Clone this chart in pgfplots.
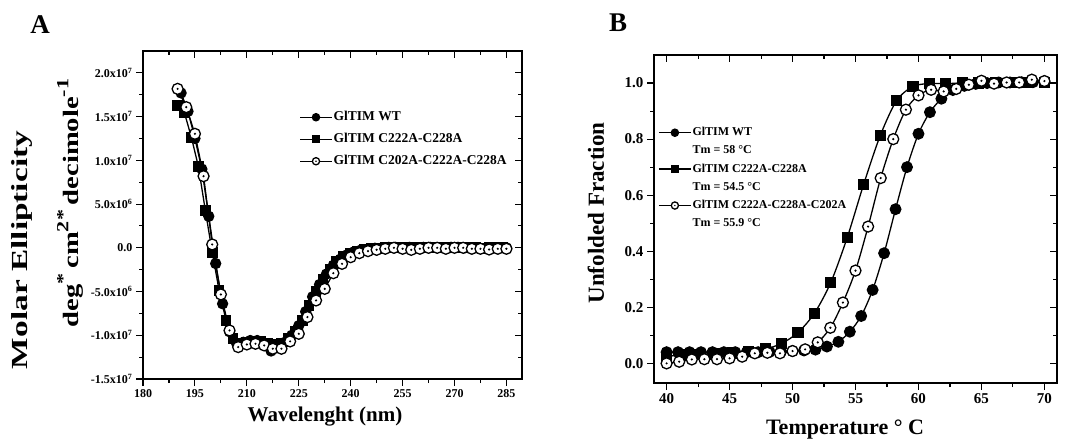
\documentclass[border=0pt]{standalone}
\usepackage{fontspec}
\setmainfont{Liberation Serif}
\usepackage{graphicx}
\usepackage{pgfplots}
\pgfplotsset{compat=1.18}

% open circle with a dot in the middle (Origin style)
\pgfdeclareplotmark{dotcircle}{%
  \pgfpathcircle{\pgfpointorigin}{\pgfplotmarksize}%
  \pgfsetfillcolor{white}%
  \pgfusepathqfillstroke
  \pgfpathcircle{\pgfpointorigin}{0.22\pgfplotmarksize}%
  \pgfsetfillcolor{black}%
  \pgfusepathqfill}

\newcommand\fs[1]{\fontsize{#1}{#1}\selectfont\bfseries}

\pgfplotsset{
  base/.style={scale only axis,
    axis line style={line width=1.3pt},
    tick style={line width=1.1pt,black},
    major tick length=7pt, minor tick length=4pt,
    minor x tick num=1, minor y tick num=1,
    /pgf/number format/assume math mode=true},
  outer/.style={base, tick align=outside, xtick pos=left, ytick pos=left},
  inner/.style={base, tick align=inside, xtick pos=right, ytick pos=right,
    xticklabels={}, yticklabels={}, scaled ticks=false},
  leg/.style={legend cell align=left,
    legend style={draw=none, fill=none, inner sep=0pt, row sep=#1,
      nodes={inner sep=1pt, text height=9pt, text depth=3pt}},
    legend image code/.code={\draw[mark repeat=2,mark phase=2,##1,mark size=3.6pt]
      plot coordinates {(0pt,0pt)(16pt,0pt)(32pt,0pt)};}},
  ln/.style={black, line width=1.3pt},
}

\begin{document}
\begin{tikzpicture}
\path[use as bounding box] (0pt,0pt) rectangle (1070pt,445pt);

% ---------------- panel A ----------------
\begin{axis}[outer, at={(143pt,66pt)}, anchor=south west,
  width=379pt, height=328pt, xmin=180, xmax=289.5, ymin=-1.5e7, ymax=2.25e7,
  xtick={180,195,...,285}, ytick={-1.5e7,-1e7,-5e6,0,5e6,1e7,1.5e7,2e7},
  scaled y ticks=false,
  yticklabels={-1.5x10\textsuperscript{7},-1.0x10\textsuperscript{7},-5.0x10\textsuperscript{6},0.0,
    5.0x10\textsuperscript{6},1.0x10\textsuperscript{7},1.5x10\textsuperscript{7},2.0x10\textsuperscript{7}},
  ticklabel style={font=\fs{12}},
  leg=8pt, legend style={font=\fs{13.5}, at={(0.412,0.82)}, anchor=north west},
]
\addplot[ln, mark=*, mark size=5pt, mark options={solid}] coordinates {
 (191,17.7e6) (193,15.6e6) (195,12.5e6) (197,9.0e6) (199,3.6e6) (201,-1.8e6)
 (203,-6.4e6) (205,-9.6e6) (207,-10.9e6) (209,-10.8e6) (211,-10.6e6) (213,-10.6e6)
 (215,-11.0e6) (217,-11.8e6) (219,-11.3e6) (221,-10.8e6) (223,-10.0e6) (225,-8.9e6)
 (227,-7.3e6) (229,-5.6e6) (231,-4.2e6) (233,-3.0e6) (235,-2.0e6) (237,-1.3e6)
 (239,-0.8e6) (241,-0.45e6) (243,-0.25e6) (245,-0.12e6) (247,-0.05e6) (249,0)
 (251,0.05e6) (253,0.05e6) (255,0) (257,0.05e6) (259,0) (261,0.05e6) (263,0.05e6)
 (265,0) (267,0) (269,0.05e6) (271,0.05e6) (273,0) (275,0) (277,0) (279,-0.05e6)
 (281,0) (283,0) (285,0)};
\addlegendentry{GlTIM WT}
\addplot[ln, mark=square*, mark size=4.7pt] coordinates {
 (190,16.3e6) (192,15.4e6) (194,12.6e6) (196,9.3e6) (198,4.3e6) (200,-0.5e6)
 (202,-4.9e6) (204,-8.3e6) (206,-10.4e6) (208,-10.9e6) (210,-10.8e6) (212,-10.7e6)
 (214,-10.7e6) (216,-10.9e6) (218,-11.0e6) (220,-10.9e6) (222,-10.4e6) (224,-9.6e6)
 (226,-8.3e6) (228,-6.6e6) (230,-5.0e6) (232,-3.6e6) (234,-2.5e6) (236,-1.6e6)
 (238,-1.0e6) (240,-0.6e6) (242,-0.35e6) (244,-0.2e6) (246,-0.1e6) (248,-0.05e6)
 (250,0) (252,0.05e6) (254,0) (256,0) (258,0.05e6) (260,0) (262,0) (264,0.05e6)
 (266,0) (268,0) (270,0.05e6) (272,0) (274,0) (276,0) (278,-0.05e6) (280,0)
 (282,0) (284,0)};
\addlegendentry{GlTIM C222A-C228A}
\addplot[ln, mark=dotcircle, mark size=5.5pt] coordinates {
 (190,18.17e6) (192.5,16.08e6) (195,13.03e6) (197.5,8.19e6) (200,0.38e6)
 (202.5,-5.33e6) (205,-9.45e6) (207.5,-11.35e6) (210,-11.05e6) (212.5,-10.97e6)
 (215,-11.16e6) (217.5,-11.54e6) (220,-11.54e6) (222.5,-10.70e6) (225,-9.83e6)
 (227.5,-7.92e6) (230,-6.02e6) (232.5,-4.69e6) (235,-2.9e6) (237.5,-1.83e6)
 (240,-1.07e6) (242.5,-0.61e6) (245,-0.38e6) (247.5,-0.23e6) (250,-0.11e6)
 (252.5,0) (255,-0.11e6) (257.5,-0.23e6) (260,-0.11e6) (262.5,0) (265,0)
 (267.5,-0.11e6) (270,0) (272.5,0) (275,-0.11e6) (277.5,-0.11e6) (280,-0.19e6)
 (282.5,-0.11e6) (285,-0.11e6)};
\addlegendentry{GlTIM C202A-C222A-C228A}
\end{axis}
\begin{axis}[inner, at={(143pt,66pt)}, anchor=south west,
  width=379pt, height=328pt, xmin=180, xmax=289.5, ymin=-1.5e7, ymax=2.25e7,
  xtick={180,195,...,285}, ytick={-1.5e7,-1e7,-5e6,0,5e6,1e7,1.5e7,2e7}]
\end{axis}

\node[font=\fs{21}] at (325pt,28pt) {Wavelenght (nm)};
\node[font=\fs{23}, rotate=90] at (22pt,195pt) {\scalebox{1.45}[1]{Molar Ellipticity}};
\node[font=\fs{22}, rotate=90] at (70pt,242pt) {\scalebox{1.3}[1]{deg\raisebox{0.45em}{\fs{17}*}\,cm\raisebox{0.45em}{\fs{17}2}\raisebox{0.45em}{\fs{17}*}\,decimole\raisebox{0.45em}{\fs{17}-1}}};
\node[font=\fs{27}] at (40pt,420pt) {A};

% ---------------- panel B ----------------
\begin{axis}[outer, at={(654pt,62pt)}, anchor=south west,
  width=403pt, height=328pt, xmin=39, xmax=71, ymin=-0.07, ymax=1.1,
  xtick={40,45,...,70}, ytick={0,0.2,...,1.0},
  yticklabel style={/pgf/number format/.cd, fixed, fixed zerofill, precision=1},
  ticklabel style={font=\fs{15}},
  leg=4.2pt, legend style={font=\fs{12}, at={(0.01,0.785)}, anchor=north west},
]
\addlegendimage{ln, mark=*}
\addlegendentry{GlTIM WT}
\addlegendimage{empty legend}
\addlegendentry{Tm = 58 °C}
\addlegendimage{ln, mark=square*}
\addlegendentry{GlTIM C222A-C228A}
\addlegendimage{empty legend}
\addlegendentry{Tm = 54.5 °C}
\addlegendimage{ln, mark=dotcircle}
\addlegendentry{GlTIM C222A-C228A-C202A}
\addlegendimage{empty legend}
\addlegendentry{Tm = 55.9 °C}

\addplot[ln, smooth, mark=*, mark size=5.3pt, forget plot] coordinates {
 (40.00,0.040) (40.91,0.040) (41.82,0.040) (42.73,0.040) (43.64,0.040) (44.55,0.040)
 (45.45,0.040) (46.36,0.040) (47.27,0.040) (48.18,0.041) (49.09,0.042) (50.00,0.044)
 (50.91,0.046) (51.82,0.049) (52.73,0.060) (53.64,0.077) (54.55,0.113) (55.45,0.169)
 (56.36,0.262) (57.27,0.393) (58.18,0.550) (59.09,0.700) (60.00,0.819) (60.91,0.896)
 (61.82,0.944) (62.73,0.975) (63.64,0.990) (64.55,0.997) (65.45,1.000) (66.36,1.002)
 (67.27,1.002) (68.18,1.003) (69.09,1.003) (70.00,1.004)};
\addplot[ln, smooth, mark=square*, mark size=5pt, forget plot] coordinates {
 (40.00,0.025) (41.30,0.030) (42.61,0.032) (43.91,0.035) (45.22,0.037) (46.52,0.042)
 (47.83,0.051) (49.13,0.071) (50.43,0.110) (51.74,0.179) (53.04,0.289) (54.35,0.450)
 (55.65,0.639) (56.96,0.812) (58.26,0.937) (59.57,0.988) (60.87,0.998) (62.17,0.998)
 (63.48,1.000) (64.78,1.000) (66.09,1.001) (67.39,1.001) (68.70,1.002) (70.00,1.002)};
\addplot[ln, smooth, mark=dotcircle, mark size=5.5pt, forget plot] coordinates {
 (40,0.000) (41,0.006) (42,0.014) (43,0.015) (44,0.015) (45,0.018) (46,0.024)
 (47,0.036) (48,0.038) (49,0.036) (50,0.044) (51,0.050) (52,0.075) (53,0.127)
 (54,0.217) (55,0.331) (56,0.488) (57,0.661) (58,0.800) (59,0.905) (60,0.956)
 (61,0.976) (62,0.970) (63,0.979) (64,0.994) (65,1.008) (66,0.998) (67,1.002)
 (68,1.002) (69,1.012) (70,1.007)};
\end{axis}
\begin{axis}[inner, at={(654pt,62pt)}, anchor=south west,
  width=403pt, height=328pt, xmin=39, xmax=71, ymin=-0.07, ymax=1.1,
  xtick={40,45,...,70}, ytick={0,0.2,...,1.0}]
\end{axis}

\node[font=\fs{22}] at (845pt,15pt) {Temperature ° C};
\node[font=\fs{23}, rotate=90] at (596pt,232pt) {Unfolded Fraction};
\node[font=\fs{27}] at (618pt,422pt) {B};
\end{tikzpicture}
\end{document}
